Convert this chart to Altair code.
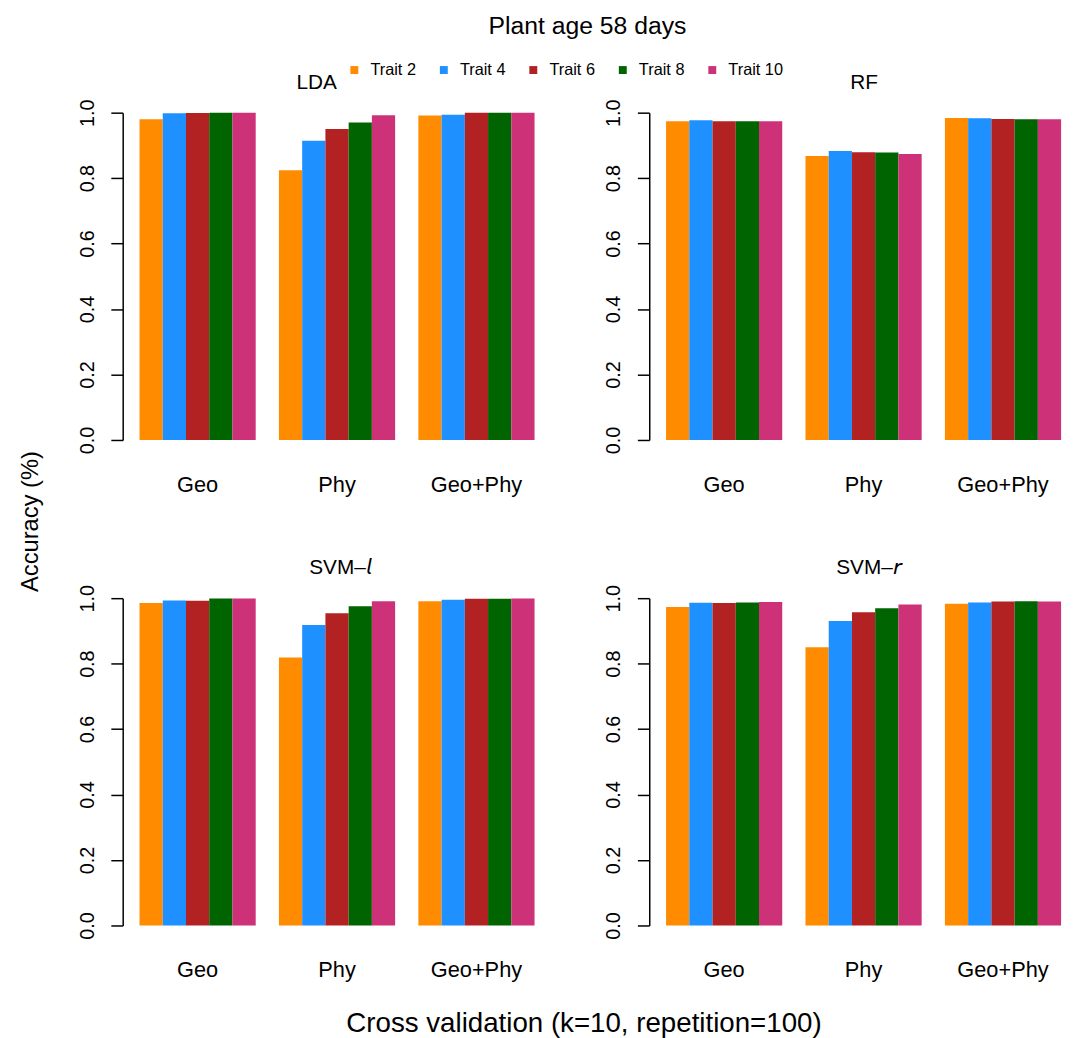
import altair as alt
import pandas as pd

groups = ["Geo", "Phy", "Geo+Phy"]
traits = ["Trait 2", "Trait 4", "Trait 6", "Trait 8", "Trait 10"]
colors = ["#FF8C00", "#1E90FF", "#B22222", "#006400", "#CD3278"]

# accuracy values, order of traits within each group
lda_geo = [0.980, 0.998, 0.999, 1.000, 1.000]
lda_phy = [0.824, 0.914, 0.950, 0.970, 0.992]
lda_geophy = [0.991, 0.994, 1.000, 1.000, 1.000]

rf_geo = [0.974, 0.977, 0.974, 0.974, 0.974]
rf_phy = [0.868, 0.883, 0.879, 0.878, 0.874]
rf_geophy = [0.984, 0.983, 0.981, 0.980, 0.980]

svml_geo = [0.985, 0.993, 0.992, 0.999, 0.999]
svml_phy = [0.819, 0.918, 0.954, 0.975, 0.991]
svml_geophy = [0.991, 0.995, 0.998, 0.998, 0.999]

svmr_geo = [0.973, 0.986, 0.985, 0.987, 0.988]
svmr_phy = [0.850, 0.930, 0.957, 0.969, 0.981]
svmr_geophy = [0.983, 0.987, 0.990, 0.991, 0.990]

FONT = "Liberation Sans"
W = 424.5
H = 331


def make_df(geo, phy, geophy):
    rows = []
    for g, vals in zip(groups, [geo, phy, geophy]):
        for t, v in zip(traits, vals):
            rows.append({"cv": g, "trait": t, "acc": v})
    return pd.DataFrame(rows)


def panel(title, dx, geo, phy, geophy, ytitle=False, xtitle=False):
    df = make_df(geo, phy, geophy)
    yaxis_kw = dict(
        values=[0, 0.2, 0.4, 0.6, 0.8, 1.0], format=".1f", labelAngle=-90,
        labelAlign="center", labelBaseline="bottom", tickSize=12,
        labelPadding=14, grid=False, labelFontSize=20, labelFont=FONT,
        domainColor="black", tickColor="black", labelColor="black",
        domainWidth=1.5, tickWidth=1.5,
    )
    if ytitle:
        yaxis_kw.update(title="Accuracy (%)", titleX=-93, titleY=413,
                        titleAlign="center", titleBaseline="middle",
                        titleAngle=-90, titleFontSize=24, titleFont=FONT,
                        titleFontWeight="normal", titleColor="black")
    else:
        yaxis_kw.update(title=None)
    xaxis_kw = dict(domain=False, ticks=False, labelPadding=35, labelAngle=0,
                    labelFontSize=22, labelFont=FONT, labelColor="black")
    if xtitle:
        xaxis_kw.update(title="Cross validation (k=10, repetition=100)",
                        titleX=466, titleY=99.5, titleAlign="center",
                        titleBaseline="middle", titleFontSize=28,
                        titleFont=FONT, titleFontWeight="normal",
                        titleColor="black")
    else:
        xaxis_kw.update(title=None)

    legend = alt.Legend(
        orient="none", legendX=226, legendY=-51.5, direction="horizontal",
        title=None, symbolType="square", symbolSize=64, symbolStrokeWidth=0,
        labelFontSize=16.5, labelFont=FONT, labelColor="black", labelOffset=8,
        columnPadding=19.5,
    )
    return alt.Chart(df).mark_bar().encode(
        x=alt.X("cv:N", sort=groups,
                scale=alt.Scale(paddingInner=0.1667, paddingOuter=0.0887, align=0.68),
                axis=alt.Axis(**xaxis_kw)),
        xOffset=alt.XOffset("trait:N", sort=traits,
                            scale=alt.Scale(paddingInner=0, paddingOuter=0)),
        y=alt.Y("acc:Q", scale=alt.Scale(domain=[0, 1], nice=False, zero=True),
                axis=alt.Axis(**yaxis_kw)),
        color=alt.Color("trait:N", sort=traits,
                        scale=alt.Scale(domain=traits, range=colors),
                        legend=legend),
    ).properties(
        width=W, height=H,
        title=alt.TitleParams(title, dx=dx, offset=6.5, fontSize=21, font=FONT,
                              fontWeight="normal", color="black", frame="group"),
    )


p1 = panel("LDA", -16, lda_geo, lda_phy, lda_geophy, ytitle=True)
p2 = panel("RF", 5, rf_geo, rf_phy, rf_geophy)
p3 = panel("SVM\u2013\U0001D62D", 8, svml_geo, svml_phy, svml_geophy, xtitle=True)
p4 = panel("SVM\u2013\U0001D633", 10, svmr_geo, svmr_phy, svmr_geophy)

chart = alt.concat(
    p1, p2, p3, p4, columns=2, spacing={"row": 160, "column": 107.5},
    bounds="flush",
).properties(
    title=alt.TitleParams("Plant age 58 days", fontSize=25, font=FONT,
                          fontWeight="normal", color="black", anchor="middle",
                          offset=23, dx=44),
    padding={"left": 11, "top": 0, "right": 0, "bottom": 0},
).configure_view(stroke=None)

chart.save("out.html", embed_options={"renderer": "svg", "actions": False})
